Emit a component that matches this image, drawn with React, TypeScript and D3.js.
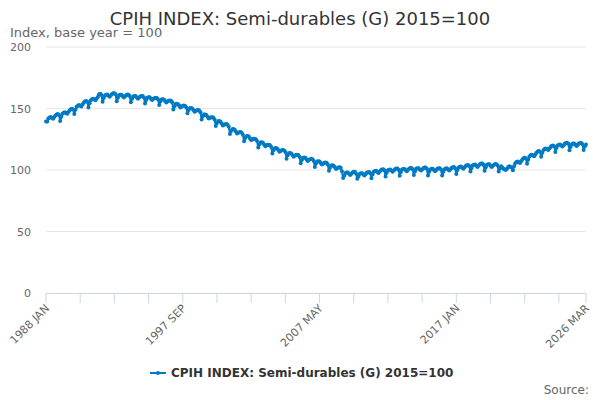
import * as d3 from 'd3';

const TITLE = 'CPIH INDEX: Semi-durables (G) 2015=100';
const SUBTITLE = 'Index, base year = 100';
const MONTHS = ['JAN', 'FEB', 'MAR', 'APR', 'MAY', 'JUN', 'JUL', 'AUG', 'SEP', 'OCT', 'NOV', 'DEC'];
const START_YEAR = 1988;
const Y_TICKS = [0, 50, 100, 150, 200];

// monthly index values, one row per year
const VALUES = [
    139.5, 139.5, 141.8, 142.7, 143.0, 142.3, 141.7, 143.0, 144.3, 145.2, 145.5, 144.8, // 1988
    139.9, 143.3, 145.7, 146.6, 146.9, 146.3, 145.7, 147.1, 148.4, 149.3, 149.7, 149.1, // 1989
    145.5, 148.9, 151.4, 152.3, 152.8, 152.3, 151.7, 153.2, 154.7, 155.6, 156.1, 155.5, // 1990
    150.9, 154.3, 156.7, 157.6, 157.9, 157.3, 156.7, 158.1, 159.4, 161.5, 162.0, 161.0, // 1991
    155.4, 158.5, 160.6, 161.2, 161.3, 160.4, 159.6, 160.7, 161.8, 162.4, 162.5, 161.6, // 1992
    155.8, 158.8, 160.7, 161.2, 161.1, 160.0, 159.0, 159.9, 160.8, 161.3, 161.2, 160.2, // 1993
    155.0, 157.9, 159.8, 160.2, 160.1, 159.0, 158.0, 158.9, 159.8, 160.2, 160.1, 159.0, // 1994
    154.0, 156.9, 158.8, 159.2, 159.1, 158.0, 157.0, 157.9, 158.3, 158.7, 158.6, 157.5, // 1995
    152.9, 155.6, 157.4, 157.6, 157.4, 156.1, 154.9, 155.6, 156.4, 156.6, 156.4, 155.1, // 1996
    149.2, 151.9, 153.6, 153.8, 153.5, 152.2, 150.8, 151.5, 152.2, 152.4, 152.1, 150.8, // 1997
    146.1, 148.7, 150.3, 150.4, 150.1, 148.7, 147.3, 147.9, 148.6, 148.7, 148.3, 146.9, // 1998
    141.0, 143.6, 145.1, 145.2, 144.7, 143.2, 141.8, 142.3, 142.8, 142.9, 142.4, 141.0, // 1999
    135.8, 138.3, 139.7, 139.8, 139.3, 137.8, 136.2, 136.7, 137.2, 137.3, 136.7, 135.2, // 2000
    129.3, 131.8, 133.2, 133.3, 132.8, 131.3, 129.7, 130.2, 130.7, 130.8, 130.2, 128.7, // 2001
    123.4, 126.0, 127.5, 127.6, 127.2, 125.7, 124.3, 124.8, 125.4, 125.5, 125.0, 123.6, // 2002
    118.2, 120.8, 122.4, 122.5, 122.1, 120.7, 119.3, 119.9, 120.5, 120.6, 120.2, 118.8, // 2003
    113.4, 116.1, 117.7, 117.9, 117.5, 116.2, 114.8, 115.5, 116.1, 116.3, 115.9, 114.6, // 2004
    109.2, 111.9, 113.6, 113.8, 113.5, 112.2, 110.8, 111.5, 112.2, 112.4, 112.1, 110.8, // 2005
    105.5, 108.2, 109.9, 110.2, 109.9, 108.6, 107.4, 108.1, 108.8, 109.1, 108.8, 107.5, // 2006
    102.5, 105.2, 106.9, 107.2, 106.9, 105.6, 104.4, 105.1, 105.8, 106.1, 105.8, 104.5, // 2007
    99.4, 102.1, 103.7, 103.9, 103.5, 102.2, 100.8, 101.5, 102.1, 102.3, 101.9, 99.0,   // 2008
    93.5, 95.5, 97.5, 98.0, 98.0, 97.0, 96.0, 97.0, 98.0, 98.5, 98.5, 97.0,             // 2009
    92.8, 94.8, 96.8, 97.4, 97.4, 96.5, 95.5, 96.6, 97.7, 98.2, 98.3, 97.3,             // 2010
    93.3, 96.4, 98.6, 99.2, 99.3, 98.4, 97.6, 98.7, 99.8, 100.4, 100.6, 99.7,           // 2011
    94.7, 97.7, 99.8, 100.3, 100.4, 99.5, 98.5, 99.6, 100.7, 101.2, 101.3, 100.3,       // 2012
    95.3, 98.3, 100.4, 100.9, 100.9, 100.0, 99.0, 100.1, 101.1, 101.6, 101.7, 100.7,    // 2013
    96.0, 99.0, 101.0, 101.5, 101.5, 100.5, 99.5, 100.5, 101.5, 102.0, 102.0, 101.0,    // 2014
    95.5, 98.5, 100.5, 101.0, 101.0, 100.0, 99.0, 100.0, 101.0, 101.5, 101.5, 100.5,    // 2015
    95.5, 98.6, 100.7, 101.3, 101.4, 100.5, 99.5, 100.6, 101.7, 102.3, 102.4, 101.5,    // 2016
    96.8, 99.9, 102.1, 102.7, 102.8, 101.9, 101.1, 102.2, 103.3, 103.9, 104.1, 103.2,   // 2017
    98.7, 101.7, 103.8, 104.3, 104.4, 103.5, 102.5, 103.6, 104.7, 105.2, 105.3, 104.3,  // 2018
    99.3, 102.3, 104.2, 104.7, 104.6, 103.5, 102.5, 103.4, 104.3, 104.8, 104.7, 103.7,  // 2019
    98.8, 101.5, 103.0, 102.0, 101.0, 100.5, 100.0, 101.0, 102.5, 103.0, 102.5, 102.0,  // 2020
    99.7, 103.1, 105.5, 106.5, 106.9, 106.3, 105.7, 107.1, 108.5, 109.5, 109.9, 109.3,  // 2021
    105.1, 108.5, 111.0, 111.9, 112.3, 111.8, 111.2, 112.7, 114.1, 115.0, 115.5, 114.9, // 2022
    110.7, 114.0, 116.3, 117.2, 117.5, 116.8, 116.2, 117.5, 118.8, 119.7, 120.0, 119.3, // 2023
    114.7, 117.8, 120.0, 120.6, 120.8, 119.9, 119.1, 120.2, 121.4, 122.0, 122.2, 121.3, // 2024
    116.0, 119.0, 121.0, 121.5, 121.5, 120.5, 119.5, 120.5, 121.5, 122.0, 122.0, 121.0, // 2025
    116.3, 119.1, 120.8,                                                                  // 2026
];

const CATEGORIES = VALUES.map((_, i) => `${START_YEAR + Math.floor(i / 12)} ${MONTHS[i % 12]}`);

const W = 600, H = 400;
const LEFT = 46, RIGHT = 586, TOP = 47, BOTTOM = 293;
const BLUE = '#007ac3';
const FONT = '"DejaVu Sans", Verdana, sans-serif';

export default function App() {
    const n = VALUES.length;
    const x = d3.scaleLinear().domain([0, n - 1]).range([LEFT, RIGHT]);
    const y = d3.scaleLinear().domain([0, 200]).range([BOTTOM, TOP]);

    const line = d3.line<number>().x((_, i) => x(i)).y(d => y(d));

    // ticks every 29 months, labels every 4th tick, plus the last month
    const ticks = d3.range(0, n, 29);
    if (ticks[ticks.length - 1] !== n - 1) ticks.push(n - 1);
    const labelled = ticks.filter(i => i % 116 === 0 || i === n - 1);

    return (
        <div style={{ position: 'absolute', left: 0, top: 0 }}>
            <svg width={W} height={H} style={{ fontFamily: FONT, display: 'block' }}>
                <rect width={W} height={H} fill="#fff" />
                <text x={W / 2} y={25} textAnchor="middle" fontSize={18} fill="#333">{TITLE}</text>
                <text x={10} y={37} fontSize={13} fill="#666">{SUBTITLE}</text>

                {Y_TICKS.map(t => (
                    <g key={t}>
                        {t > 0 && <line x1={LEFT} x2={RIGHT} y1={y(t)} y2={y(t)} stroke="#e6e6e6" />}
                        <text x={31} y={y(t) + 4} textAnchor="end" fontSize={11} fill="#666">{t}</text>
                    </g>
                ))}

                <line x1={LEFT} x2={RIGHT} y1={BOTTOM + 0.5} y2={BOTTOM + 0.5} stroke="#ccd6eb" />
                {ticks.map(i => (
                    <line key={i} x1={x(i)} x2={x(i)} y1={BOTTOM} y2={BOTTOM + 10} stroke="#ccd6eb" />
                ))}
                {labelled.map(i => (
                    <text key={i} transform={`translate(${x(i) + 4},${BOTTOM + 16}) rotate(-45)`}
                        textAnchor="end" fontSize={11} fill="#666">{CATEGORIES[i]}</text>
                ))}

                <path d={line(VALUES)!} fill="none" stroke={BLUE} strokeWidth={2} strokeLinejoin="round" />
                {VALUES.map((v, i) => (
                    <circle key={i} cx={x(i)} cy={y(v)} r={2} fill={BLUE} />
                ))}

                <g transform="translate(150,373)">
                    <line x1={0} x2={16} y1={0} y2={0} stroke={BLUE} strokeWidth={2} />
                    <circle cx={8} cy={0} r={2} fill={BLUE} />
                    <text x={21} y={4} fontSize={12} fontWeight="bold" fill="#333">{TITLE}</text>
                </g>
                <text x={589} y={394} textAnchor="end" fontSize={12} fill="#666">Source:</text>
            </svg>
        </div>
    );
}
